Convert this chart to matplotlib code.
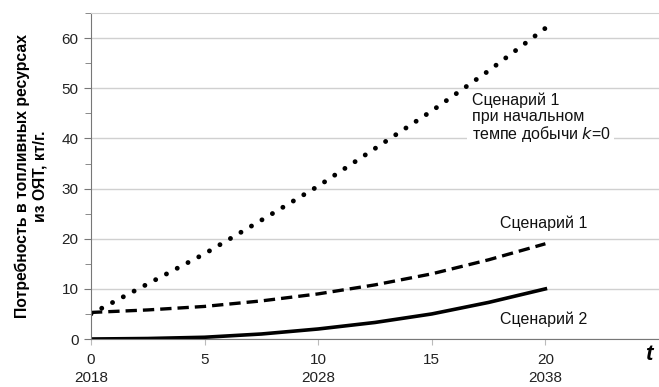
import matplotlib
matplotlib.use("Agg")
import matplotlib.pyplot as plt
from matplotlib.ticker import MultipleLocator

# годы расчета
t = [0, 2.5, 5, 7.5, 10, 12.5, 15, 17.5, 20]
# сценарий 1 при k=0
sc1_k0 = [5.0, 11.0, 17.0, 23.7, 30.5, 38.0, 45.5, 53.5, 62.0]
# сценарий 1
sc1 = [5.3, 5.8, 6.5, 7.6, 9.0, 10.8, 13.0, 15.8, 19.0]
# сценарий 2
sc2 = [0.0, 0.1, 0.35, 1.0, 2.0, 3.3, 5.0, 7.3, 10.0]

xticks = [0, 5, 10, 15, 20]
xlabels = ["0\n2018", "5", "10\n2028", "15", "20\n2038"]

plt.rcParams['font.family'] = ['Liberation Sans', 'DejaVu Sans']

fig = plt.figure(figsize=(6.59, 3.87), dpi=100)
ax = fig.add_axes([0.138, 0.124, 0.862, 0.842])

ax.plot(t, sc1_k0, color='black', linewidth=3.5, linestyle=(0, (0.01, 2.5)),
        dash_capstyle='round', solid_capstyle='round')
ax.plot(t, sc1, color='black', linewidth=2.4, linestyle=(0, (3.4, 1.8)))
ax.plot(t, sc2, color='black', linewidth=2.6)

ax.set_xlim(0, 25)
ax.set_ylim(0, 65)
ax.set_xticks(xticks)
ax.set_xticklabels(xlabels, fontsize=11, color='#222222', linespacing=1.4)
ax.yaxis.set_major_locator(MultipleLocator(10))
ax.yaxis.set_minor_locator(MultipleLocator(5))
ax.tick_params(axis='y', labelsize=11, labelcolor='#222222', length=5, color='#777777', pad=4)
ax.tick_params(axis='y', which='minor', length=4, color='#777777')
ax.tick_params(axis='x', length=4, color='#bbbbbb', pad=6)

ax.grid(axis='y', color='#d0d0d0', linewidth=1)
ax.set_axisbelow(True)
ax.spines['right'].set_visible(False)
ax.spines['top'].set_color('#d0d0d0')
ax.spines['left'].set_color('#777777')
ax.spines['bottom'].set_color('#777777')

ax.set_ylabel("Потребность в топливных ресурсах\nиз ОЯТ, кт/г.", fontsize=11.3,
              fontweight='bold', labelpad=10, linespacing=1.2)

ax.text(16.75, 44.0, "Сценарий 1\nпри начальном\nтемпе добычи $\\it{k}$=0", fontsize=11.5,
        va='center', ha='left', linespacing=1.05, color='#111111',
        bbox=dict(facecolor='white', edgecolor='none', pad=3))
ax.text(18.0, 23.0, "Сценарий 1", fontsize=11.5, ha='left', va='center', color='#111111')
ax.text(18.0, 4.0, "Сценарий 2", fontsize=11.5, ha='left', va='center', color='#111111')

fig.text(0.985, 0.085, "t", fontsize=16, fontweight='bold', fontstyle='italic',
         ha='center', va='center')

fig.savefig("out.png", dpi=100)
